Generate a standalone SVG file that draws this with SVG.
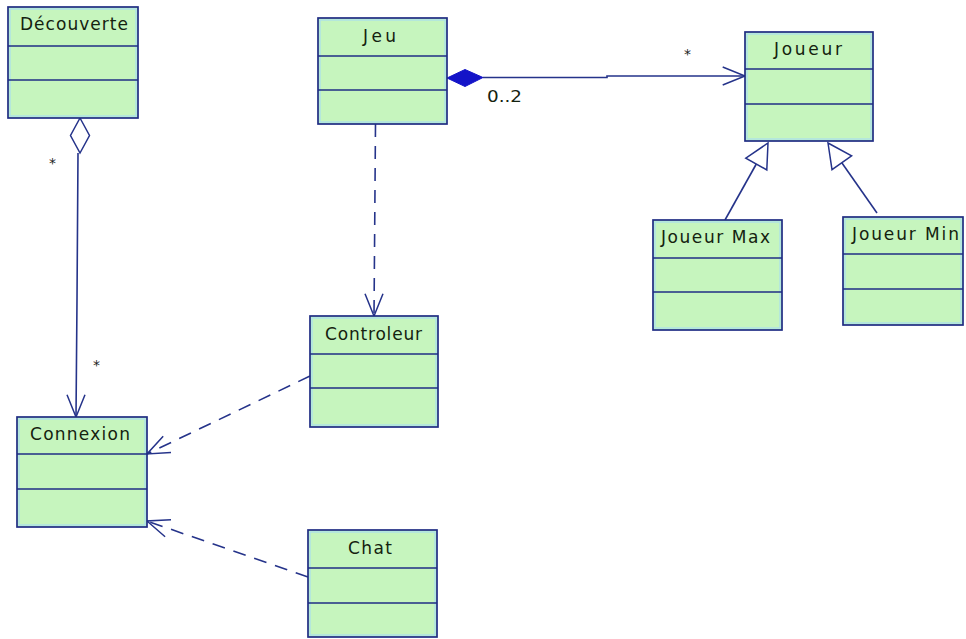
<svg xmlns="http://www.w3.org/2000/svg" width="966" height="639" viewBox="0 0 966 639">
  <style>
    .box { fill: #c6f5be; stroke: #1f2c84; stroke-width: 1.7; }
    .inner { fill: none; stroke: #a9def0; stroke-width: 1.2; }
    .sep { stroke: #1f2c84; stroke-width: 1.7; }
    .name { font-family: "DejaVu Sans", sans-serif; font-size: 17px; fill: #14220f; }
    .lbl { font-family: "DejaVu Sans", sans-serif; font-size: 16px; fill: #14220f; }
    .star { font-family: "DejaVu Sans", sans-serif; font-size: 14px; fill: #222222; }
    .line { fill: none; stroke: #25338a; stroke-width: 1.6; }
    .dash { fill: none; stroke: #25338a; stroke-width: 1.6; stroke-dasharray: 13 9; }
    .head { fill: none; stroke: #25338a; stroke-width: 1.5; }
    .hollow { fill: #ffffff; stroke: #25338a; stroke-width: 1.5; }
    .solid { fill: #1414c8; stroke: #1414c8; stroke-width: 1; }
  </style>
  <rect width="966" height="639" fill="#ffffff"/>

  <!-- connectors -->
  <g id="connectors">
    <!-- Jeu composition Joueur -->
    <polygon class="solid" points="447,78 465,69.5 483,77.5 465,86.5"/>
    <polyline class="line" points="483,77.5 607,77.5 607,76 745,76"/>
    <polyline class="head" points="722.7,67 745,76 722.7,85"/>
    <text class="star" x="684" y="59">*</text>
    <text class="lbl" x="487" y="102" textLength="35" lengthAdjust="spacingAndGlyphs">0..2</text>

    <!-- Decouverte aggregation Connexion -->
    <polygon class="hollow" points="80,118 89.5,135.5 80,153 70.5,135.5"/>
    <polyline class="line" points="78,153 77,300 76,417"/>
    <polyline class="head" points="67,394.7 76,417 85,394.7"/>
    <text class="star" x="49" y="168">*</text>
    <text class="star" x="93" y="370">*</text>

    <!-- Jeu dependency Controleur -->
    <line class="dash" x1="375.5" y1="124" x2="374" y2="316"/>
    <polyline class="head" points="365,293.7 374,316 383,293.7"/>

    <!-- Controleur dependency Connexion -->
    <line class="dash" x1="310" y1="376" x2="147" y2="454"/>
    <polyline class="head" points="171,452.5 147,454 163.2,436.3"/>

    <!-- Chat dependency Connexion -->
    <line class="dash" x1="308" y1="577" x2="147" y2="521"/>
    <polyline class="head" points="171,519.8 147,521 165.1,536.8"/>

    <!-- generalizations to Joueur -->
    <line class="line" x1="725" y1="220" x2="756.3" y2="164"/>
    <polygon class="hollow" points="768,143 766.8,169.9 745.8,158.1"/>
    <line class="line" x1="877" y1="213" x2="841.8" y2="162.7"/>
    <polygon class="hollow" points="828,143 851.6,155.8 832,169.6"/>
  </g>

  <!-- classes -->
  <g id="Decouverte">
    <rect class="box" x="8" y="7" width="130" height="111"/>
    <rect class="inner" x="10" y="9" width="126" height="107"/>
    <line class="sep" x1="8" y1="46" x2="138" y2="46"/>
    <line class="sep" x1="8" y1="80" x2="138" y2="80"/>
    <text class="name" x="20" y="30" textLength="108" lengthAdjust="spacing">Découverte</text>
  </g>

  <g id="Jeu">
    <rect class="box" x="318" y="18" width="129" height="106"/>
    <rect class="inner" x="320" y="20" width="125" height="102"/>
    <line class="sep" x1="318" y1="56" x2="447" y2="56"/>
    <line class="sep" x1="318" y1="90" x2="447" y2="90"/>
    <text class="name" x="363" y="42" textLength="33" lengthAdjust="spacing">Jeu</text>
  </g>

  <g id="Joueur">
    <rect class="box" x="745" y="32" width="128" height="109"/>
    <rect class="inner" x="747" y="34" width="124" height="105"/>
    <line class="sep" x1="745" y1="69" x2="873" y2="69"/>
    <line class="sep" x1="745" y1="104" x2="873" y2="104"/>
    <text class="name" x="774" y="55" textLength="68" lengthAdjust="spacing">Joueur</text>
  </g>

  <g id="JoueurMax">
    <rect class="box" x="653" y="220" width="129" height="110"/>
    <rect class="inner" x="655" y="222" width="125" height="106"/>
    <line class="sep" x1="653" y1="258" x2="782" y2="258"/>
    <line class="sep" x1="653" y1="292" x2="782" y2="292"/>
    <text class="name" x="661" y="243" textLength="109" lengthAdjust="spacing">Joueur Max</text>
  </g>

  <g id="JoueurMin">
    <rect class="box" x="843" y="217" width="120" height="108"/>
    <rect class="inner" x="845" y="219" width="116" height="104"/>
    <line class="sep" x1="843" y1="254" x2="963" y2="254"/>
    <line class="sep" x1="843" y1="289" x2="963" y2="289"/>
    <text class="name" x="852" y="240" textLength="107" lengthAdjust="spacing">Joueur Min</text>
  </g>

  <g id="Controleur">
    <rect class="box" x="310" y="316" width="128" height="111"/>
    <rect class="inner" x="312" y="318" width="124" height="107"/>
    <line class="sep" x1="310" y1="354" x2="438" y2="354"/>
    <line class="sep" x1="310" y1="388" x2="438" y2="388"/>
    <text class="name" x="325" y="340" textLength="97" lengthAdjust="spacing">Controleur</text>
  </g>

  <g id="Connexion">
    <rect class="box" x="17" y="417" width="130" height="110"/>
    <rect class="inner" x="19" y="419" width="126" height="106"/>
    <line class="sep" x1="17" y1="454" x2="147" y2="454"/>
    <line class="sep" x1="17" y1="489" x2="147" y2="489"/>
    <text class="name" x="30" y="440" textLength="100" lengthAdjust="spacing">Connexion</text>
  </g>

  <g id="Chat">
    <rect class="box" x="308" y="530" width="129" height="107"/>
    <rect class="inner" x="310" y="532" width="125" height="103"/>
    <line class="sep" x1="308" y1="568" x2="437" y2="568"/>
    <line class="sep" x1="308" y1="603" x2="437" y2="603"/>
    <text class="name" x="348" y="554" textLength="44" lengthAdjust="spacing">Chat</text>
  </g>
</svg>
